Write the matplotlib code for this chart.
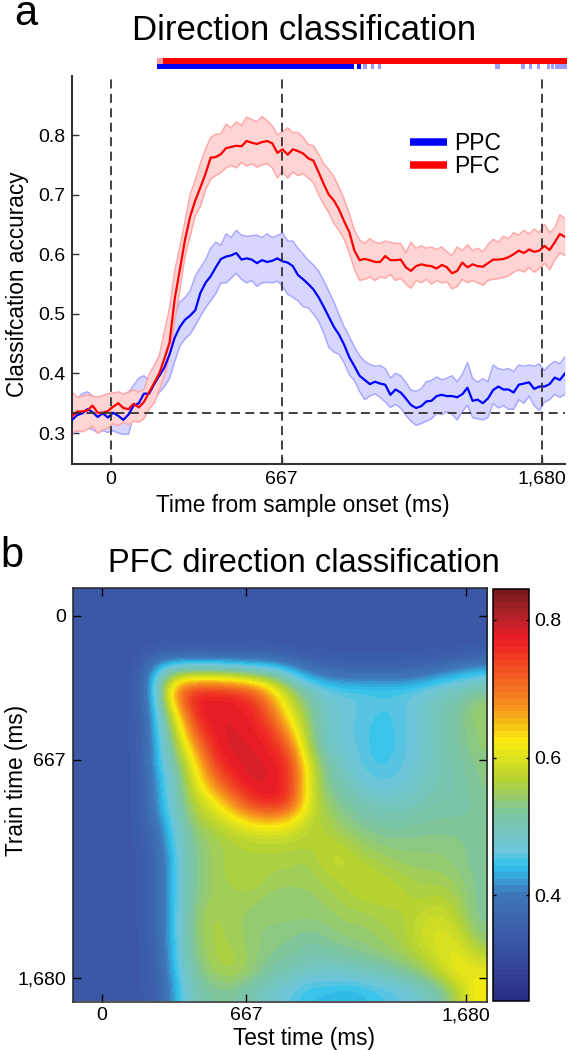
#!/usr/bin/env python3
"""Direction classification time course and cross-temporal map, read off the picture."""

import numpy as np
import matplotlib
matplotlib.use('Agg')
import matplotlib.pyplot as plt
from matplotlib.colors import LinearSegmentedColormap
from matplotlib.lines import Line2D

plt.rcParams['font.family'] = ['Liberation Sans', 'DejaVu Sans']

W, H = 571, 1050

# time course, one value every 20 ms starting at -150 ms
time_ms = np.arange(-150, 1771, 20)

pfc_mean = [
    .328, .336, .336, .338, .346, .334, .334, .337, .344, .350,
    .342, .340, .349, .343, .352, .368, .384, .400, .425, .452,
    .525, .574, .624, .663, .690, .712, .735, .762, .763, .768,
    .778, .780, .782, .781, .790, .787, .785, .788, .790, .786,
    .770, .776, .767, .776, .773, .769, .761, .757, .738, .718,
    .700, .690, .675, .655, .637, .606, .590, .592, .590, .587,
    .587, .597, .590, .590, .591, .578, .572, .580, .583, .581,
    .580, .576, .582, .578, .568, .572, .586, .578, .583, .580,
    .579, .585, .591, .591, .592, .595, .600, .606, .602, .608,
    .604, .606, .614, .607, .620, .634, .629]
pfc_upper = [
    .369, .360, .362, .364, .362, .360, .363, .366, .367, .369,
    .365, .369, .372, .369, .373, .398, .413, .430, .470, .510,
    .572, .612, .655, .700, .724, .752, .776, .796, .801, .802,
    .818, .812, .822, .816, .830, .826, .822, .831, .824, .815,
    .800, .805, .812, .804, .804, .796, .784, .782, .768, .752,
    .742, .730, .712, .692, .668, .640, .624, .618, .626, .620,
    .618, .622, .620, .618, .618, .602, .620, .610, .614, .610,
    .612, .608, .612, .604, .598, .612, .606, .616, .606, .610,
    .604, .616, .625, .620, .630, .626, .636, .632, .640, .634,
    .642, .636, .650, .636, .644, .666, .660]
pfc_lower = [
    .300, .304, .302, .306, .312, .300, .306, .308, .316, .312,
    .318, .314, .320, .318, .324, .340, .350, .372, .396, .428,
    .488, .540, .596, .630, .665, .680, .708, .726, .732, .737,
    .745, .749, .745, .754, .748, .752, .746, .750, .752, .745,
    .728, .740, .728, .738, .732, .735, .728, .720, .700, .684,
    .670, .652, .640, .625, .602, .575, .556, .558, .562, .556,
    .562, .560, .566, .556, .560, .550, .543, .556, .552, .558,
    .550, .556, .552, .554, .542, .546, .558, .552, .556, .552,
    .548, .556, .558, .559, .561, .564, .570, .574, .570, .578,
    .570, .576, .585, .574, .590, .602, .598]

ppc_mean = [
    .322, .330, .333, .340, .335, .327, .333, .326, .334, .329,
    .322, .331, .346, .350, .366, .366, .382, .396, .410, .432,
    .460, .478, .490, .497, .506, .535, .552, .563, .578, .592,
    .596, .598, .602, .591, .593, .591, .585, .590, .587, .589,
    .593, .588, .586, .580, .565, .558, .550, .541, .528, .512,
    .495, .478, .465, .448, .427, .412, .396, .389, .382, .386,
    .383, .381, .364, .373, .368, .358, .347, .342, .345, .353,
    .354, .362, .364, .362, .362, .360, .365, .376, .354, .356,
    .350, .358, .372, .378, .373, .373, .368, .381, .383, .385,
    .374, .378, .378, .382, .393, .389, .400]
ppc_upper = [
    .358, .358, .366, .369, .362, .358, .362, .358, .366, .366,
    .365, .368, .380, .392, .396, .388, .410, .428, .448, .474,
    .494, .520, .527, .538, .563, .577, .590, .610, .620, .615,
    .634, .628, .640, .632, .630, .631, .632, .628, .634, .628,
    .631, .636, .622, .622, .610, .600, .590, .582, .572, .556,
    .538, .520, .498, .478, .462, .444, .430, .420, .415, .412,
    .413, .408, .392, .400, .396, .385, .372, .370, .374, .386,
    .388, .394, .389, .392, .396, .386, .398, .418, .392, .385,
    .391, .386, .414, .408, .406, .408, .403, .414, .412, .414,
    .412, .416, .405, .414, .420, .416, .428]
ppc_lower = [
    .300, .302, .304, .308, .306, .300, .304, .301, .304, .300,
    .298, .298, .330, .334, .340, .342, .356, .368, .378, .392,
    .420, .446, .458, .466, .480, .496, .510, .522, .534, .552,
    .552, .560, .568, .558, .552, .556, .546, .552, .553, .552,
    .555, .546, .533, .528, .522, .512, .510, .500, .488, .468,
    .444, .436, .432, .418, .398, .388, .370, .356, .362, .366,
    .360, .352, .343, .348, .342, .330, .320, .313, .316, .320,
    .324, .333, .331, .336, .332, .322, .336, .347, .326, .324,
    .322, .326, .350, .342, .346, .340, .340, .356, .350, .362,
    .346, .338, .352, .356, .365, .360, .365]

# significance runs above the traces, (start, duration) in ms
pfc_sig_strong = [(205, 1572)]
pfc_sig_weak = [(182, 23)]
ppc_sig_strong = [(182, 767), (959, 16)]
ppc_sig_weak = [(985, 15), (1013, 14), (1040, 13), (1498, 17), (1598, 15),
                (1630, 13), (1660, 13), (1700, 12), (1716, 12), (1732, 45)]

chance_level = 1 / 3
event_times = [0, 667, 1680]
event_labels = ['0', '667', '1,680']
accuracy_ticks = [0.3, 0.4, 0.5, 0.6, 0.7, 0.8]

# cross-temporal map on a coarse grid, rows are train time, columns test time
b = .335
pfc_map = np.array([
    [b, b, b, b, b, b, b, b, b, b, b, b, b, b, b, b, b, b, b, b, b, b],
    [b, b, b, b, b, b, b, b, b, b, b, b, b, b, b, b, b, b, b, b, b, b],
    [b, b, b, b, b, b, b, b, b, b, b, b, b, b, b, b, b, b, b, b, b, b],
    [b, b, b, b, .345, .345, .345, .345, .345, .345, .345, b, b, b, b, b, b, b, b, b, b, .345],
    [b, b, b, .34, .47, .53, .53, .53, .52, .50, .49, .45, .40, .38, .37, .37, .37, .37, .38, .40, .42, .44],
    [b, b, b, .34, .49, .72, .77, .77, .76, .73, .65, .56, .50, .47, .46, .46, .455, .46, .47, .49, .50, .52],
    [b, b, b, .34, .46, .64, .775, .78, .78, .77, .70, .60, .53, .48, .47, .455, .45, .455, .48, .50, .52, .55],
    [b, b, b, .34, .45, .58, .74, .78, .78, .775, .75, .65, .54, .48, .465, .452, .448, .455, .48, .50, .52, .54],
    [b, b, b, .34, .44, .55, .67, .775, .785, .78, .77, .72, .55, .49, .47, .452, .445, .455, .48, .50, .52, .54],
    [b, b, b, .34, .44, .52, .62, .74, .78, .785, .78, .76, .60, .51, .48, .455, .448, .46, .48, .50, .51, .53],
    [b, b, b, .34, .42, .50, .60, .68, .755, .785, .78, .76, .60, .52, .50, .47, .46, .47, .49, .50, .51, .53],
    [b, b, b, .34, .42, .50, .57, .61, .68, .75, .775, .75, .60, .54, .52, .50, .49, .49, .50, .51, .51, .52],
    [b, b, b, .34, .40, .48, .55, .57, .60, .63, .64, .62, .57, .56, .53, .52, .51, .51, .52, .52, .52, .52],
    [b, b, b, .34, .38, .47, .53, .55, .56, .57, .57, .57, .57, .57, .56, .54, .53, .53, .53, .53, .53, .52],
    [b, b, b, b, .37, .46, .53, .55, .56, .56, .56, .56, .55, .58, .58, .56, .55, .54, .54, .54, .53, .52],
    [b, b, b, b, .37, .46, .53, .55, .56, .57, .55, .55, .55, .56, .57, .58, .57, .56, .55, .55, .54, .52],
    [b, b, b, b, .37, .46, .53, .55, .55, .55, .54, .54, .54, .55, .56, .57, .57, .57, .56, .57, .55, .52],
    [b, b, b, b, .37, .46, .54, .56, .55, .54, .54, .54, .54, .54, .55, .55, .56, .56, .58, .59, .56, .52],
    [b, b, b, b, .37, .46, .54, .56, .55, .54, .53, .53, .52, .53, .54, .54, .55, .56, .59, .60, .59, .53],
    [b, b, b, b, .36, .46, .53, .56, .56, .54, .53, .52, .51, .51, .52, .53, .54, .55, .57, .60, .61, .57],
    [b, b, b, b, .36, .45, .52, .55, .56, .54, .51, .50, .48, .48, .48, .49, .50, .52, .54, .58, .62, .61],
    [b, b, b, b, .35, .44, .50, .52, .52, .50, .48, .46, .44, .44, .43, .44, .45, .46, .48, .51, .57, .63],
])

colorbar_ticks = [0.4, 0.6, 0.8]
map_vmin, map_vmax = 0.246, 0.845

# printed jet, stops
jet_values = [.246, .325, .40, .441, .462, .519, .567, .624, .678, .775, .81, .845]
jet_colors = ['#2a2f86', '#3b55a5', '#3f77b9', '#2ec4ef', '#6cc6dc', '#7cc5a0',
              '#b5d334', '#f8ec0f', '#f68f1f', '#ee1c25', '#b3222a', '#7a1a1c']

BLUE = '#0000ff'
RED = '#ff0000'
DASH = '#333333'


def px_axes(fig, left, top, right, bottom):
    """Add axes from pixel edges, y counted from the top of the picture."""
    return fig.add_axes([left / W, 1 - bottom / H, (right - left) / W, (bottom - top) / H])


def px_text(fig, x, y, s, **kw):
    kw.setdefault('ha', 'center')
    kw.setdefault('va', 'center')
    fig.text(x / W, 1 - y / H, s, **kw)


def draw_trace(ax, mean, upper, lower, color, band, edge, z):
    ax.fill_between(time_ms, lower, upper, color=band, lw=0, zorder=z)
    ax.plot(time_ms, upper, color=edge, lw=1.1, zorder=z)
    ax.plot(time_ms, lower, color=edge, lw=1.1, zorder=z)
    ax.plot(time_ms, mean, color=color, lw=1.6, zorder=z + 2)


fig = plt.figure(figsize=(W / 100, H / 100), dpi=100)

# Panel a: time course
ax = px_axes(fig, 72, 76, 565, 464)
draw_trace(ax, ppc_mean, ppc_upper, ppc_lower, BLUE, '#d6d6ff', '#a8a8ff', 2)
draw_trace(ax, pfc_mean, pfc_upper, pfc_lower, RED, '#ffd4d4', '#ffa8a8', 2.5)
for t in event_times:
    ax.axvline(t, color=DASH, lw=1.3, dashes=(5, 3), zorder=6)
ax.axhline(chance_level, color=DASH, lw=1.3, dashes=(5, 3), zorder=6)

ax.set_xlim(-150, 1770)
ax.set_ylim(0.248, 0.899)
ax.set_xticks(event_times)
ax.set_xticklabels(event_labels)
ax.set_yticks(accuracy_ticks)
ax.tick_params(direction='in', length=5, width=1, labelsize=14, color='#333333', pad=5)
ax.tick_params(axis='x', pad=5)
for side in ['top', 'right']:
    ax.spines[side].set_visible(False)
for side in ['left', 'bottom']:
    ax.spines[side].set_linewidth(1.5)
    ax.spines[side].set_color('#333333')

handles = [Line2D([], [], color=BLUE, lw=5.4, solid_capstyle='butt', label='PPC'),
           Line2D([], [], color=RED, lw=5.4, solid_capstyle='butt', label='PFC')]
ax.legend(handles=handles, frameon=False, fontsize=16.5, loc='center left',
          bbox_to_anchor=(405 / W, 1 - 155 / H), bbox_transform=fig.transFigure,
          handlelength=1.65, handletextpad=0.3, labelspacing=0, borderpad=0.2,
          borderaxespad=0)

# significance runs sit in their own strip above the axes
ax_sig = px_axes(fig, 72, 58, 565, 69.5)
ax_sig.set_xlim(-150, 1770)
ax_sig.set_ylim(0, 2)
ax_sig.axis('off')
ax_sig.broken_barh(ppc_sig_strong, (0, 1), color=BLUE, lw=0, clip_on=False)
ax_sig.broken_barh(ppc_sig_weak, (0, 1), color='#9a9aff', lw=0, clip_on=False)
ax_sig.broken_barh(pfc_sig_strong, (1, 1), color=RED, lw=0, clip_on=False)
ax_sig.broken_barh(pfc_sig_weak, (1, 1), color='#ff9a9a', lw=0, clip_on=False)

px_text(fig, 304, 31, 'Direction classification', fontsize=25)
px_text(fig, 14, 25, 'a', fontsize=30, ha='left', va='baseline')
px_text(fig, 18, 284, 'Classifcation accuracy', fontsize=16.3, rotation=90)
px_text(fig, 303, 505, 'Time from sample onset (ms)', fontsize=16.3)

# Panel b: cross-temporal map
cmap = LinearSegmentedColormap.from_list(
    'print_jet',
    [((v - map_vmin) / (map_vmax - map_vmin), c) for v, c in zip(jet_values, jet_colors)],
    N=64)

map_left, map_top, map_right, map_bottom = 73, 587.5, 487, 1001.5
ms_per_px_x = 1 / 0.2165
ms_per_px_y = 1 / 0.2155
test_extent = ((map_left - 101.8) * ms_per_px_x, (map_right - 101.8) * ms_per_px_x)
train_extent = ((map_bottom - 616) * ms_per_px_y, (map_top - 616) * ms_per_px_y)

ax_map = px_axes(fig, map_left, map_top, map_right, map_bottom)
im = ax_map.imshow(pfc_map, cmap=cmap, vmin=map_vmin, vmax=map_vmax, aspect='auto',
                   interpolation='bicubic',
                   extent=[test_extent[0], test_extent[1], train_extent[0], train_extent[1]])
ax_map.set_xticks(event_times)
ax_map.set_xticklabels(event_labels)
ax_map.set_yticks(event_times)
ax_map.set_yticklabels(event_labels)
ax_map.tick_params(direction='in', length=6, width=1, labelsize=14, top=True, right=True, pad=5)
ax_map.tick_params(axis='x', pad=4)
for spine in ax_map.spines.values():
    spine.set_linewidth(1.1)
    spine.set_color('#222222')

cax = px_axes(fig, 492.5, 589, 528.5, 1001)
cbar = fig.colorbar(im, cax=cax)
cbar.set_ticks(colorbar_ticks)
cbar.ax.tick_params(direction='in', length=2.5, width=1, labelsize=14, left=True, right=True, pad=4)
cbar.outline.set_linewidth(1.1)

px_text(fig, 304, 563, 'PFC direction classification', fontsize=23.5)
px_text(fig, 0, 567, 'b', fontsize=30, ha='left', va='baseline')
px_text(fig, 17, 780, 'Train time (ms)', fontsize=16.3, rotation=90)
px_text(fig, 304, 1038, 'Test time (ms)', fontsize=16.3)

fig.savefig('out.png', dpi=100)
